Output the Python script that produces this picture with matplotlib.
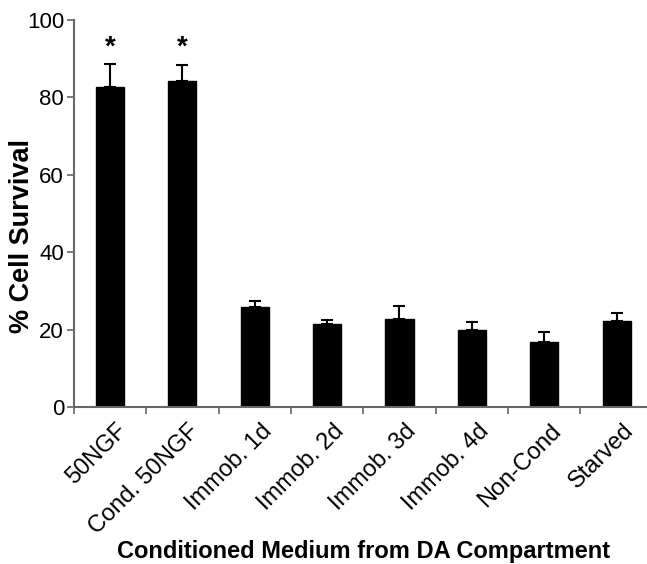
import matplotlib
matplotlib.use("Agg")
import matplotlib.pyplot as plt
import numpy as np

plt.rcParams['font.family'] = ['Liberation Sans', 'DejaVu Sans']

categories = ["50NGF", "Cond. 50NGF", "Immob. 1d", "Immob. 2d", "Immob. 3d", "Immob. 4d", "Non-Cond", "Starved"]
survival = [82.7, 84.2, 25.9, 21.6, 22.7, 19.9, 16.8, 22.3]
sem = [6.0, 4.2, 1.5, 0.9, 3.3, 2.1, 2.6, 1.9]
significant = [True, True, False, False, False, False, False, False]

fig = plt.figure(figsize=(6.47, 5.64), dpi=100)
ax = fig.add_axes([0.114, 0.278, 0.895, 0.687])

x = np.arange(len(categories))
ax.bar(x, survival, width=0.39, color='black', edgecolor='black', zorder=2)
ax.errorbar(x, survival, yerr=[np.zeros(len(sem)), sem], fmt='none', ecolor='black',
            elinewidth=1.5, capsize=4, capthick=1.5, zorder=3)
for xi, v, e, s in zip(x, survival, sem, significant):
    if s:
        ax.text(xi, 92.8, '*', ha='center', va='center', fontsize=20, fontweight='bold')

ax.set_xlim(-0.5, 7.43)
ax.set_ylim(0, 100)
ax.set_yticks([0, 20, 40, 60, 80, 100])
ax.set_xticks(x + 0.08)
ax.set_xticklabels(categories, rotation=45, ha='right', va='top', rotation_mode='anchor', fontsize=17)
ax.set_xticks(np.arange(-0.5, 8, 1.0), minor=True)
ax.tick_params(axis='x', which='major', length=0, pad=9)
ax.tick_params(axis='x', which='minor', length=5, color='#666666', width=1.2)
ax.tick_params(axis='y', labelsize=16, length=5, color='#666666', width=1.2, pad=2)

for sp in ['top', 'right']:
    ax.spines[sp].set_visible(False)
for sp in ['left', 'bottom']:
    ax.spines[sp].set_color('#666666')
    ax.spines[sp].set_linewidth(1.5)

ax.set_ylabel('% Cell Survival', fontsize=19.5, fontweight='bold', va='center')
ax.yaxis.set_label_coords(-0.09, 0.442)
ax.set_xlabel('Conditioned Medium from DA Compartment', fontsize=17, fontweight='bold', va='center')
ax.xaxis.set_label_coords(0.5, -0.373)

fig.savefig('out.png', dpi=100)
